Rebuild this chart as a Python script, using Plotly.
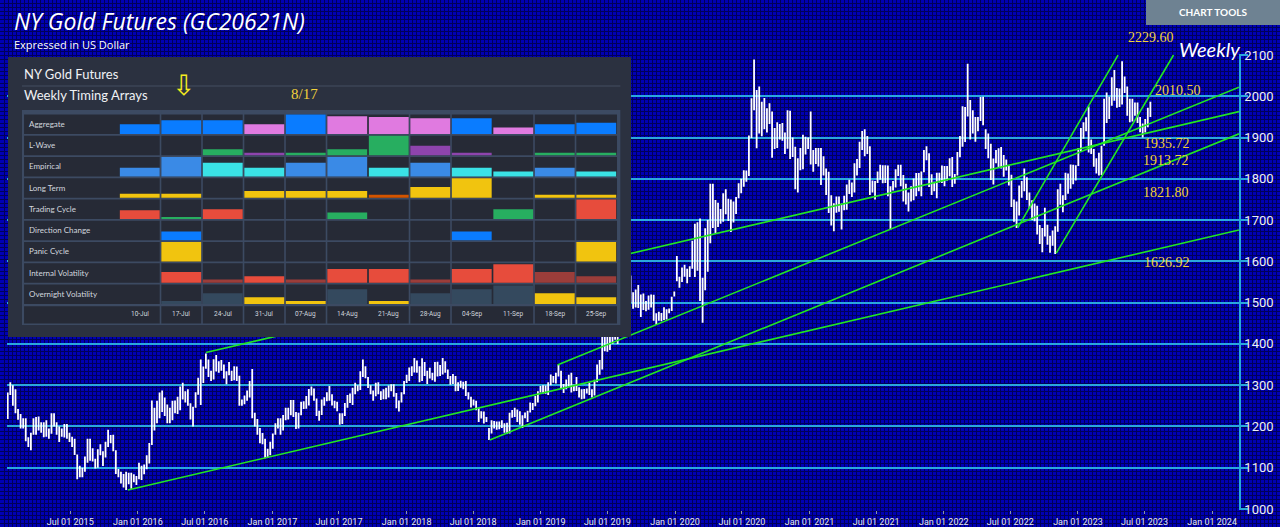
import pandas as pd
import plotly.graph_objects as go

W, H = 1280, 527

# weekly price bars, one block per year (Monday of the first week in the block)
week_start = ["2015-01-12", "2016-01-04", "2017-01-02", "2018-01-01", "2019-01-07",
              "2020-01-06", "2021-01-04", "2022-01-03", "2023-01-02"]

high_2015 = [1282, 1307, 1300, 1290, 1242, 1230, 1220, 1220, 1174, 1185, 1220, 1223, 1224, 1210, 1210, 1215, 1195,
             1232, 1232, 1210, 1200, 1195, 1206, 1206, 1185, 1175, 1170, 1132, 1105, 1100, 1127, 1170, 1170, 1147,
             1122, 1145, 1157, 1140, 1163, 1192, 1179, 1180, 1142, 1097, 1090, 1085, 1090, 1088, 1088, 1084, 1080]
low_2015 = [1218, 1276, 1250, 1232, 1216, 1195, 1195, 1164, 1150, 1142, 1180, 1180, 1190, 1185, 1174, 1175, 1170,
            1182, 1200, 1180, 1162, 1175, 1173, 1170, 1162, 1150, 1131, 1072, 1077, 1077, 1090, 1112, 1117, 1115,
            1098, 1100, 1130, 1104, 1125, 1150, 1159, 1140, 1085, 1077, 1062, 1052, 1046, 1060, 1049, 1065, 1058]

high_2016 = [1112, 1105, 1108, 1130, 1160, 1263, 1245, 1262, 1282, 1287, 1270, 1253, 1245, 1262, 1263, 1272, 1297,
             1306, 1285, 1290, 1256, 1248, 1283, 1318, 1362, 1345, 1377, 1362, 1335, 1363, 1373, 1358, 1361, 1350,
             1334, 1356, 1335, 1346, 1345, 1323, 1265, 1275, 1287, 1310, 1339, 1233, 1218, 1196, 1184, 1170, 1146, 1163]
low_2016 = [1072, 1070, 1084, 1096, 1110, 1155, 1190, 1208, 1220, 1235, 1225, 1208, 1208, 1215, 1232, 1230, 1239,
            1265, 1258, 1250, 1217, 1200, 1245, 1277, 1252, 1305, 1340, 1320, 1310, 1314, 1333, 1330, 1335, 1316,
            1302, 1324, 1310, 1312, 1310, 1250, 1250, 1254, 1262, 1270, 1220, 1200, 1180, 1159, 1157, 1123, 1124, 1130]

high_2017 = [1183, 1208, 1220, 1220, 1228, 1245, 1245, 1264, 1264, 1235, 1233, 1260, 1261, 1274, 1291, 1297, 1292,
             1268, 1238, 1265, 1271, 1283, 1298, 1278, 1262, 1260, 1232, 1232, 1257, 1276, 1280, 1294, 1306, 1300,
             1334, 1362, 1346, 1320, 1300, 1287, 1306, 1307, 1285, 1290, 1294, 1299, 1302, 1302, 1281, 1263, 1283, 1310]
low_2017 = [1146, 1180, 1195, 1180, 1190, 1215, 1217, 1227, 1223, 1194, 1195, 1227, 1242, 1243, 1251, 1275, 1262,
            1225, 1214, 1228, 1250, 1261, 1262, 1251, 1244, 1237, 1204, 1206, 1225, 1245, 1257, 1252, 1278, 1285,
            1288, 1320, 1317, 1293, 1278, 1262, 1273, 1278, 1264, 1266, 1266, 1270, 1285, 1272, 1244, 1236, 1258, 1278]

high_2018 = [1325, 1343, 1346, 1366, 1360, 1346, 1365, 1356, 1335, 1342, 1330, 1356, 1357, 1349, 1366, 1358, 1338,
             1322, 1327, 1322, 1307, 1311, 1308, 1310, 1283, 1272, 1265, 1262, 1246, 1237, 1236, 1223, 1196, 1215,
             1213, 1212, 1212, 1215, 1208, 1209, 1233, 1240, 1245, 1241, 1237, 1227, 1234, 1238, 1258, 1257, 1274,
             1285, 1298]
low_2018 = [1305, 1310, 1322, 1331, 1330, 1307, 1310, 1322, 1303, 1316, 1312, 1308, 1321, 1322, 1326, 1330, 1315,
            1301, 1303, 1285, 1286, 1294, 1290, 1274, 1265, 1246, 1251, 1239, 1211, 1219, 1207, 1211, 1167, 1183,
            1195, 1192, 1193, 1196, 1185, 1182, 1183, 1221, 1223, 1211, 1204, 1196, 1220, 1211, 1234, 1240, 1249,
            1258, 1282]

high_2019 = [1300, 1299, 1307, 1326, 1322, 1330, 1349, 1335, 1303, 1314, 1325, 1330, 1301, 1320, 1295, 1290, 1291,
             1292, 1306, 1290, 1313, 1350, 1361, 1420, 1442, 1440, 1428, 1454, 1439, 1455, 1524, 1546, 1555, 1558,
             1566, 1525, 1532, 1543, 1520, 1522, 1504, 1517, 1520, 1519, 1474, 1478, 1475, 1489, 1484, 1486, 1514, 1527]
low_2019 = [1280, 1279, 1276, 1300, 1306, 1304, 1321, 1291, 1281, 1290, 1296, 1282, 1285, 1286, 1270, 1266, 1267,
            1280, 1276, 1270, 1275, 1307, 1325, 1338, 1382, 1381, 1385, 1400, 1410, 1400, 1456, 1491, 1495, 1514,
            1500, 1485, 1488, 1487, 1465, 1482, 1479, 1483, 1488, 1456, 1446, 1456, 1455, 1458, 1459, 1474, 1480, 1515]

high_2020 = [1613, 1563, 1585, 1592, 1582, 1588, 1650, 1691, 1695, 1704, 1560, 1680, 1700, 1788, 1788, 1749, 1742,
             1727, 1765, 1775, 1752, 1750, 1745, 1756, 1789, 1800, 1821, 1820, 1905, 1995, 2089, 2015, 2024, 1987,
             1996, 1971, 1983, 1963, 1923, 1937, 1933, 1935, 1912, 1966, 1965, 1900, 1878, 1850, 1875, 1907, 1902, 1900]
low_2020 = [1552, 1536, 1550, 1563, 1547, 1562, 1582, 1562, 1577, 1504, 1451, 1530, 1575, 1644, 1681, 1667, 1683,
            1691, 1696, 1714, 1698, 1671, 1694, 1715, 1753, 1765, 1781, 1793, 1807, 1899, 1966, 1874, 1910, 1903,
            1920, 1912, 1933, 1851, 1872, 1875, 1895, 1892, 1860, 1873, 1848, 1853, 1775, 1767, 1821, 1823, 1859, 1872]

high_2021 = [1963, 1870, 1875, 1875, 1875, 1855, 1825, 1817, 1760, 1741, 1757, 1757, 1740, 1759, 1786, 1798, 1791,
             1838, 1848, 1890, 1916, 1920, 1904, 1879, 1796, 1795, 1818, 1834, 1833, 1833, 1832, 1782, 1795, 1823,
             1834, 1834, 1809, 1788, 1767, 1782, 1801, 1814, 1814, 1818, 1870, 1879, 1862, 1811, 1793, 1815, 1815, 1832]
low_2021 = [1835, 1817, 1836, 1830, 1785, 1808, 1761, 1717, 1687, 1673, 1718, 1720, 1677, 1724, 1725, 1763, 1756,
            1767, 1808, 1826, 1870, 1855, 1860, 1761, 1767, 1750, 1790, 1798, 1789, 1790, 1758, 1677, 1772, 1779,
            1807, 1782, 1745, 1738, 1721, 1745, 1748, 1758, 1770, 1758, 1816, 1845, 1780, 1761, 1770, 1753, 1791, 1790]

high_2022 = [1831, 1831, 1850, 1853, 1812, 1865, 1904, 1976, 1974, 2079, 1991, 1966, 1950, 1950, 1998, 1999, 1920,
             1910, 1885, 1849, 1870, 1874, 1877, 1858, 1847, 1831, 1810, 1750, 1745, 1784, 1795, 1825, 1804, 1767,
             1748, 1740, 1735, 1688, 1681, 1730, 1689, 1662, 1675, 1685, 1775, 1788, 1760, 1815, 1813, 1835, 1834, 1833]
low_2022 = [1782, 1796, 1806, 1780, 1788, 1808, 1852, 1878, 1889, 1951, 1895, 1910, 1890, 1915, 1940, 1930, 1872,
            1850, 1797, 1786, 1838, 1828, 1825, 1805, 1820, 1784, 1732, 1696, 1681, 1711, 1754, 1770, 1749, 1728,
            1700, 1697, 1665, 1642, 1622, 1660, 1640, 1621, 1638, 1618, 1672, 1737, 1719, 1749, 1764, 1776, 1787, 1796]

high_2023 = [1875, 1923, 1937, 1949, 1975, 1895, 1872, 1850, 1863, 1880, 1994, 2009, 1999, 2046, 2064, 2020, 2019,
             2085, 2048, 2024, 1994, 1994, 1985, 1985, 1950, 1934, 1945, 1972, 1987]
low_2023 = [1831, 1866, 1897, 1915, 1864, 1860, 1829, 1813, 1808, 1809, 1880, 1935, 1945, 1977, 1989, 1972, 1974,
            1980, 2008, 1953, 1937, 1939, 1953, 1935, 1913, 1900, 1912, 1925, 1950]

high_blocks = [high_2015, high_2016, high_2017, high_2018, high_2019, high_2020, high_2021, high_2022, high_2023]
low_blocks = [low_2015, low_2016, low_2017, low_2018, low_2019, low_2020, low_2021, low_2022, low_2023]

# green trend lines (start / end date and price)
trend_start = ["2015-12-05", "2016-07-04", "2018-08-15", "2019-02-15", "2022-07-21", "2022-11-03"]
trend_start_price = [1046, 1379, 1167, 1349, 1681, 1620]
trend_end = ["2024-03-14", "2024-03-14", "2024-03-14", "2024-03-14", "2023-04-20", "2023-09-18"]
trend_end_price = [1676, 1963, 1909, 2022, 2100, 2100]

# yellow level labels
level_labels = ["2229.60", "2010.50", "1935.72", "1913.72", "1821.80", "1626.92"]

# weekly timing arrays inset
timing_cols = ["10-Jul", "17-Jul", "24-Jul", "31-Jul", "07-Aug", "14-Aug",
               "21-Aug", "28-Aug", "04-Sep", "11-Sep", "18-Sep", "25-Sep"]
timing_rows = ["Aggregate", "L-Wave", "Empirical", "Long Term", "Trading Cycle",
               "Direction Change", "Panic Cycle", "Internal Volatility", "Overnight Volatility"]
aggregate = [0.5, 0.7, 0.7, 0.5, 1.0, 0.9, 0.87, 0.8, 0.8, 0.33, 0.5, 0.57]
aggregate_col = "BBBPBPPPBPBB"
lwave = [0, 0, 0.3, 0.13, 0.13, 0.3, 1.0, 0.48, 0.13, 0, 0.13, 0.13]
lwave_col = "GGGVGGGVVGGG"
empirical = [0.45, 1.0, 0.7, 0.45, 0.7, 1.0, 0.45, 0.7, 0.45, 0.25, 0.45, 0.25]
empirical_col = "EECCEECECCEC"
long_term = [0.2, 0.2, 0, 0.35, 0.35, 0.35, 0.15, 0.55, 1.0, 0, 0.15, 0.15]
long_term_col = "YYYYYYOYYYYY"
trading = [0.45, 0.1, 0.5, 0, 0, 0.33, 0, 0, 0, 0.5, 0, 1.0]
trading_col = "RGRRRGRRRGRR"
direction = [0, 0.45, 0, 0, 0, 0, 0, 0, 0.45, 0, 0, 0]
direction_col = "BBBBBBBBBBBB"
panic = [0, 1.0, 0, 0, 0, 0, 0, 0, 0, 0, 0, 1.0]
panic_col = "YYYYYYYYYYYY"
internal_vol = [0, 0.55, 0.17, 0.33, 0.17, 0.7, 0.7, 0.17, 0.7, 0.95, 0.55, 0.33]
internal_vol_col = "RRDRDRRDRRDD"
overnight_vol = [0, 0.15, 0.55, 0.35, 0.15, 0.75, 0.15, 0.55, 0.75, 0.95, 0.55, 0.35]
overnight_vol_col = "SSSYYSYSSSYY"

row_values = [aggregate, lwave, empirical, long_term, trading, direction, panic, internal_vol, overnight_vol]
row_colors = [aggregate_col, lwave_col, empirical_col, long_term_col, trading_col,
              direction_col, panic_col, internal_vol_col, overnight_vol_col]

palette = {"B": "#0a7cff", "P": "#e07ae0", "G": "#27ae60", "V": "#8e44ad", "E": "#3a8ae6",
           "C": "#3ae2e6", "Y": "#f1c40f", "O": "#d35400", "R": "#e74c3c", "D": "#9b3d3a",
           "S": "#34495e"}

BG = "#0000b4"
PATTERN = "#00005a"
GRID = "#2aa8dc"
GREEN = "#22e622"
GOLD = "#f2d23c"
PANEL = "#2b3140"
FRAME = "#3c4a62"
CELL = "#262a36"


def px(x):
    return x / W


def py(y):
    return 1 - y / H


fig = go.Figure()

# background texture subplot (fine dark grid over the whole page)
fig.add_trace(go.Scatter(x=[None], y=[None], xaxis="x", yaxis="y", showlegend=False, hoverinfo="skip"))

# weekly high-low bars
bar_x, bar_y = [], []
for start, hi, lo in zip(week_start, high_blocks, low_blocks):
    for d, h, l in zip(pd.date_range(start, periods=len(hi), freq="7D"), hi, lo):
        bar_x += [d, d, None]
        bar_y += [l, h, None]
fig.add_trace(go.Scatter(x=bar_x, y=bar_y, mode="lines", xaxis="x2", yaxis="y2",
                         line=dict(color="white", width=1.8), showlegend=False, hoverinfo="skip"))

# trend lines
tx, ty = [], []
for a, pa, b, pb in zip(trend_start, trend_start_price, trend_end, trend_end_price):
    tx += [a, b, None]
    ty += [pa, pb, None]
fig.add_trace(go.Scatter(x=tx, y=ty, mode="lines", xaxis="x2", yaxis="y2",
                         line=dict(color=GREEN, width=1.6), showlegend=False, hoverinfo="skip"))

# inset: timing arrays as bars in each row cell
CELL_TOP, CELL_BOT = 0.02, 0.94
for r, (vals, keys) in enumerate(zip(row_values, row_colors)):
    fig.add_trace(go.Bar(
        x=list(range(len(timing_cols))),
        y=[-v * (CELL_BOT - CELL_TOP) for v in vals],
        base=[r + CELL_BOT] * len(vals),
        width=0.96,
        marker=dict(color=[palette[k] for k in keys], line=dict(width=0)),
        xaxis="x3", yaxis="y3", showlegend=False, hoverinfo="skip"))

# inset coordinate frame (columns 41.5px, rows 21.25px)
X3 = [-3.175, 11.837]
Y3 = [10.494, -2.682]
TL, TR, TT, TB = -2.838, 11.58, -0.19, 9.93

shapes = [
    dict(type="rect", xref="x3", yref="y3", x0=X3[0], x1=X3[1], y0=Y3[0], y1=Y3[1],
         fillcolor=PANEL, line=dict(width=0), layer="below"),
    dict(type="line", xref="x3", yref="y3", x0=TL, x1=TR, y0=-1.318, y1=-1.318,
         line=dict(color="#3c4456", width=1.5), layer="below"),
    dict(type="rect", xref="x3", yref="y3", x0=TL, x1=TR, y0=TT, y1=TB,
         fillcolor=FRAME, line=dict(width=0), layer="below"),
]
for r in range(len(timing_rows) + 1):
    y0 = r + CELL_TOP if r < len(timing_rows) else r + 0.05
    y1 = r + CELL_BOT if r < len(timing_rows) else r + 0.86
    shapes.append(dict(type="rect", xref="x3", yref="y3", x0=TL + 0.05, x1=11.5, y0=y0, y1=y1,
                       fillcolor=CELL, line=dict(width=0), layer="below"))
for i in [0, 1, 2, 3, 4, 6, 7, 9, 10]:
    shapes.append(dict(type="line", xref="x3", yref="y3", x0=i + 0.5, x1=i + 0.5, y0=TT, y1=TB,
                       line=dict(color=FRAME, width=1.6), layer="below"))
# chart tools button
shapes.append(dict(type="rect", xref="paper", yref="paper", x0=px(1146), x1=1, y0=py(25), y1=1,
                   fillcolor="#6e8292", line=dict(width=0), layer="above"))

ann = []
ann.append(dict(text="NY Gold Futures (GC20621N)", x=px(12), y=py(21), xanchor="left", yanchor="middle",
                font=dict(family="Open Sans", size=23, color="white", style="italic")))
ann.append(dict(text="Expressed in US Dollar", x=px(12), y=py(44), xanchor="left", yanchor="middle",
                font=dict(family="Open Sans", size=11, color="white")))
ann.append(dict(text="<b>CHART TOOLS</b>", x=px(1213), y=py(12.5), xanchor="center", yanchor="middle",
                font=dict(family="Lato", size=10, color="white")))
ann.append(dict(text="Weekly", x=px(1209), y=py(48.5), xanchor="center", yanchor="middle",
                font=dict(family="Lato", size=20, color="white", style="italic")))
level_pos = [(1151, 37.5), (1178, 90), (1167, 143.5), (1166, 160.5), (1166, 192.5), (1167, 262.5)]
for t, (lx, ly) in zip(level_labels, level_pos):
    ann.append(dict(text=t, x=px(lx), y=py(ly), xanchor="center", yanchor="middle",
                    font=dict(family="Liberation Serif", size=14, color=GOLD)))

# inset texts
ann.append(dict(text="NY Gold Futures", xref="x3", yref="y3", x=TL, y=-1.882, xanchor="left", yanchor="middle",
                font=dict(family="Lato", size=13, color="#f0f2f5")))
ann.append(dict(text="Weekly Timing Arrays", xref="x3", yref="y3", x=TL, y=-0.894, xanchor="left",
                yanchor="middle", font=dict(family="Lato", size=13, color="#f0f2f5")))
ann.append(dict(text="⇩", xref="x3", yref="y3", x=1.042, y=-1.318, xanchor="center", yanchor="middle",
                font=dict(family="DejaVu Sans", size=28, color="#f5ec1e")))
ann.append(dict(text="8/17", xref="x3", yref="y3", x=3.98, y=-0.95, xanchor="center", yanchor="middle",
                font=dict(family="Liberation Serif", size=15, color=GOLD)))
for r, name in enumerate(timing_rows):
    ann.append(dict(text=name, xref="x3", yref="y3", x=-2.717, y=r + 0.47, xanchor="left", yanchor="middle",
                    font=dict(family="Lato", size=8, color="#d2d6de")))
for i, c in enumerate(timing_cols):
    ann.append(dict(text=c, xref="x3", yref="y3", x=i, y=9.43, xanchor="center", yanchor="middle",
                    font=dict(family="Roboto", size=6.5, color="#d2d6de")))
for a in ann:
    a.setdefault("xref", "paper")
    a.setdefault("yref", "paper")
    a["showarrow"] = False

hidden = dict(visible=False, fixedrange=True, automargin=False)
fig.update_layout(
    width=W, height=H, autosize=False,
    margin=dict(l=0, r=0, t=0, b=0, pad=0, autoexpand=False),
    paper_bgcolor=BG,
    plot_bgcolor="rgba(0,0,0,0)",
    barmode="overlay",
    showlegend=False,
    xaxis=dict(domain=[0, 1], range=[0, W], dtick=4, tick0=0, showgrid=True, gridcolor=PATTERN, gridwidth=1,
               showticklabels=False, zeroline=False, ticks="", fixedrange=True, automargin=False),
    yaxis=dict(domain=[0, 1], range=[0, H], dtick=4, tick0=0, showgrid=True, gridcolor=PATTERN, gridwidth=1,
               showticklabels=False, zeroline=False, ticks="", fixedrange=True, automargin=False),
    xaxis2=dict(domain=[px(7), px(1239)], anchor="y2", range=["2015-01-10", "2024-03-14"],
                showgrid=False, zeroline=False, showline=False, automargin=False,
                tickformat="%b %d %Y", dtick="M6", tick0="2015-01-01",
                ticks="outside", ticklen=3, tickcolor="#8a94a8",
                tickfont=dict(family="Liberation Sans Narrow, Roboto", size=9, color="#e8eaf0")),
    yaxis2=dict(domain=[1 - 509.8 / H, 1 - 54.2 / H], anchor="x2", side="right", range=[998, 2102],
                dtick=100, tick0=1000, showgrid=True, gridcolor=GRID, gridwidth=1.5, zeroline=False,
                showline=True, linecolor=GRID, linewidth=1.5, automargin=False,
                ticks="outside", ticklen=7, tickcolor=GRID, tickwidth=1.5, ticklabelstandoff=-6,
                tickfont=dict(family="Liberation Sans Narrow, Roboto", size=13, color="#eef0f6")),
    xaxis3=dict(domain=[px(8), px(631)], anchor="y3", range=X3, **hidden),
    yaxis3=dict(domain=[1 - 337 / H, 1 - 57 / H], anchor="x3", range=Y3, **hidden),
    shapes=shapes,
    annotations=ann,
)

fig.write_html("out.html", config={"displayModeBar": False},
               post_script="document.body.style.margin='0';document.body.style.overflow='hidden';")
